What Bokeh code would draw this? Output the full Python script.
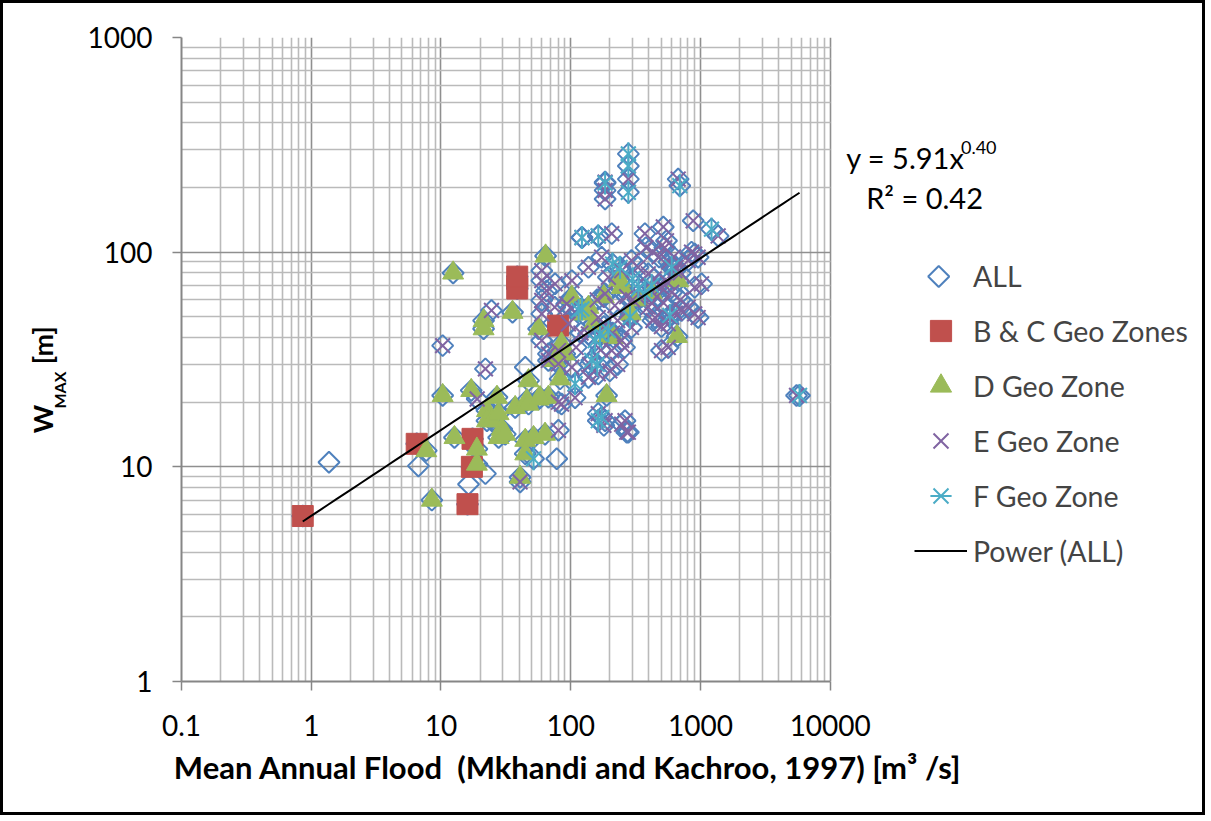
import numpy as np
from bokeh.plotting import figure
from bokeh.models import Label, Legend, LegendItem, FixedTicker
from bokeh.embed import file_html
from bokeh.resources import INLINE

# ---------------- data ----------------
bc_pts = [(0.86, 5.9), (6.5, 12.8), (16.0, 6.7), (17.3, 10.0), (17.5, 13.5),
          (38.7, 67.7), (38.7, 76.9), (80, 45.5)]

d_pts = [(7.7, 11.9), (8.5, 7.0), (10.3, 21.5), (12.4, 80), (12.7, 13.7), (17.1, 22.7),
         (18.9, 12.1), (18.9, 10.3), (21.3, 48), (21.3, 44), (22.6, 18.3), (22.6, 16.4),
         (24.7, 16.4), (27, 21.1), (27.8, 17.7), (29.4, 15.0), (27.8, 13.7), (31.3, 14.2),
         (35.6, 52.5), (37.3, 18.9), (45.9, 20.4), (56.5, 20.7), (67.3, 21.1), (47.3, 25.2),
         (82.8, 25.7), (44.6, 13.3), (51.7, 13.7), (63.4, 14.2), (44.6, 11.5), (40.7, 8.95),
         (56.5, 44), (64, 96), (47.3, 19.6), (58, 21), (75.7, 31.3), (85, 37.4), (90, 33.6),
         (102, 61.7), (125, 51.6), (137, 55.4), (150, 46.4), (195, 40.9), (213, 40.1),
         (240, 73.7), (247, 68.6), (290, 51.6), (673, 73.7), (660, 40.5), (189, 21.5),
         (235, 73.7), (330, 60), (420, 65), (180, 62)]

e_pts = [(10.3, 36.7), (19, 20.7), (22, 28.6), (24.5, 53.5), (40.7, 8.5),
         (59.8, 82), (59.8, 73.7), (65, 66), (75.3, 55.4), (59.8, 59.6), (59.8, 51.6),
         (59.8, 38.8), (67.3, 31.3), (67.3, 33.6), (80.4, 30.2), (80.4, 34.8), (80.4, 20),
         (80.4, 14.8), (85, 19.6), (93, 57.4), (75.7, 71.2), (102, 73.7), (102, 29.1),
         (96, 46.4), (108, 21), (137, 85), (137, 41.6), (137, 26.1), (163, 49.6), (163, 27.1),
         (163, 17.7), (173, 94.7), (184, 64), (184, 16.4), (195, 76.4), (207, 34.8),
         (219, 56.4), (247, 82), (247, 38.8), (247, 15.8), (262, 16.4), (278, 14.5),
         (294, 91.4), (294, 44.6), (396, 79.3), (396, 55.4), (446, 49.6), (501, 68.6),
         (501, 34.8), (564, 46.4), (564, 36), (634, 82), (714, 53.5), (803, 91.4),
         (803, 55.4), (903, 98), (903, 68.6), (903, 51.6), (959, 49.6), (959, 94.7),
         (853, 100), (1019, 71.2), (1368, 119), (122, 117), (163, 119), (207, 122),
         (373, 122), (517, 131), (879, 140), (547, 113), (184, 212), (184, 194), (184, 177),
         (278, 219), (673, 219), (380, 105), (430, 100), (480, 95), (530, 105), (570, 90),
         (620, 95), (650, 85), (700, 80), (440, 75), (480, 70), (560, 72), (600, 65),
         (460, 62), (520, 58), (580, 50), (640, 52), (700, 60), (500, 45), (430, 48),
         (140, 30), (170, 35), (200, 28), (230, 30), (260, 36), (180, 45), (210, 42),
         (270, 14.5), (180, 15.6), (300, 60), (350, 62), (420, 58), (160, 60), (120, 42),
         (110, 36), (100, 55), (230, 48), (270, 62), (330, 85), (5500, 21.5)]

f_pts = [(51.7, 10.9), (278, 287), (278, 252), (278, 190), (693, 204), (1216, 128),
         (115, 53.5), (122, 54.4), (168, 41.6), (332, 67.5), (145, 31.3), (108, 24.4),
         (163, 16.4), (173, 17), (240, 85), (373, 64), (286, 49.8), (195, 43.1), (154, 38.7),
         (581, 50.7), (5800, 21.5), (122, 117), (163, 119), (184, 210), (420, 70), (300, 75),
         (600, 85), (160, 30), (210, 88)]

# sites in ALL that carry no zone marker
unzoned_pts = [(1.37, 10.5), (6.7, 10.1), (16.3, 8.3), (22, 9.3), (78, 10.9), (44.6, 29.1)]

all_pts = bc_pts + d_pts + e_pts + f_pts + unzoned_pts

power_a, power_b = 5.91, 0.40          # trend line y = a * x^b
r_squared = 0.42

x_ticks = [0.1, 1, 10, 100, 1000, 10000]
x_tick_labels = ["0.1", "1", "10", "100", "1000", "10000"]
y_ticks = [1, 10, 100, 1000]
y_tick_labels = ["1", "10", "100", "1000"]

series_names = ["ALL", "B & C Geo Zones", "D Geo Zone", "E Geo Zone", "F Geo Zone", "Power (ALL)"]
x_title = "Mean Annual Flood \u00a0(Mkhandi and Kachroo, 1997) [m³ /s]"

# ---------------- styling ----------------
C_ALL, C_BC, C_D, C_E, C_F = "#4F81BD", "#C0504D", "#9BBB59", "#8064A2", "#4BACC6"
FONT = "Lato"
MS = 21
PX_DEC_X, PX_DEC_Y = 130.0, 214.67     # pixels per decade
FRAME_L, FRAME_B = 179, 681            # page pixels of the (0.1, 1) corner
FRAME_R_EXT = 1200                     # frame extended right so legend/equation are not clipped

def xs(pts): return [a for a, b in pts]
def ys(pts): return [b for a, b in pts]

x_end = 10 ** (np.log10(x_ticks[-1]) + (FRAME_R_EXT - 829) / PX_DEC_X)

# canvas 1205x815 + 3px css border = 1211x821
p = figure(width=1205, height=815, x_axis_type="log", y_axis_type="log",
           x_range=(x_ticks[0], x_end), y_range=(y_ticks[0], y_ticks[-1]),
           output_backend="svg", toolbar_location=None,
           min_border_left=176, min_border_right=8, min_border_top=34, min_border_bottom=137)
p.styles = {"border": "3px solid black"}
p.outline_line_color = None

x_minor = [m * 10.0 ** e for e in range(-1, 4) for m in range(2, 10)]
y_minor = [m * 10.0 ** e for e in range(0, 3) for m in range(2, 10)]
xt = FixedTicker(ticks=x_ticks, minor_ticks=x_minor)
yt = FixedTicker(ticks=y_ticks, minor_ticks=y_minor)
p.xaxis.ticker = xt
p.yaxis.ticker = yt
p.xgrid.ticker = xt
p.ygrid.ticker = yt
p.xaxis.major_label_overrides = dict(zip(x_ticks, x_tick_labels))
p.yaxis.major_label_overrides = dict(zip(y_ticks, y_tick_labels))
p.xaxis.bounds = (x_ticks[0], x_ticks[-1])
p.ygrid.cross_bounds = (x_ticks[0], x_ticks[-1])
p.xgrid.cross_bounds = (y_ticks[0], y_ticks[-1])

for g in (p.xgrid, p.ygrid):
    g.grid_line_color = "#8f8f8f"
    g.grid_line_width = 1.6
    g.minor_grid_line_color = "#bababa"
    g.minor_grid_line_width = 1.6

for ax in (p.xaxis, p.yaxis):
    ax.axis_line_color = "#868686"
    ax.axis_line_width = 2
    ax.major_tick_line_color = "#868686"
    ax.major_tick_line_width = 1.5
    ax.major_tick_out = 9
    ax.major_tick_in = 0
    ax.minor_tick_out = 0
    ax.minor_tick_in = 0
    ax.major_label_text_font = FONT
    ax.major_label_text_font_size = "28px"
    ax.major_label_text_color = "black"
p.xaxis.major_label_standoff = 24
p.yaxis.major_label_standoff = 20

p.yaxis.axis_label = "W\u2002\u2002\u2002[m]\u2002\u2002\u2002"
p.yaxis.axis_label_text_font = FONT
p.yaxis.axis_label_text_font_size = "27px"
p.yaxis.axis_label_text_font_style = "bold"
p.yaxis.axis_label_text_color = "black"
p.yaxis.axis_label_standoff = 26

# ---------------- glyphs ----------------
r_all = p.scatter(xs(all_pts), ys(all_pts), marker="square", angle=np.pi / 4, size=MS / 1.41,
                  fill_color=None, line_color=C_ALL, line_width=2)
r_bc = p.scatter(xs(bc_pts), ys(bc_pts), marker="square", size=MS, fill_color=C_BC,
                 line_color=C_BC, line_width=1)
r_d = p.scatter(xs(d_pts), ys(d_pts), marker="triangle", size=MS, fill_color=C_D,
                line_color=C_D, line_width=1)
r_e = p.scatter(xs(e_pts), ys(e_pts), marker="x", size=MS, line_color=C_E, line_width=2)
r_f1 = p.scatter(xs(f_pts), ys(f_pts), marker="x", size=MS, line_color=C_F, line_width=2)
r_f2 = p.scatter(xs(f_pts), ys(f_pts), marker="dash", angle=np.pi / 2, size=MS * 1.1,
                 line_color=C_F, line_width=2)

ax_all = np.array(xs(all_pts))
tx = np.logspace(np.log10(ax_all.min()), np.log10(ax_all.max()), 60)
r_line = p.line(tx, power_a * tx ** power_b, line_color="black", line_width=2)

# ---------------- texts / legend (positions given in page pixels) ----------------
def dx(px):  # page x pixel -> data x
    return 10 ** ((px - FRAME_L) / PX_DEC_X - 1)

def dy(py):  # page y pixel -> data y
    return 10 ** ((FRAME_B - py) / PX_DEC_Y)

# legend key for ALL (Bokeh legends do not rotate the square into a diamond)
r_all_key = p.scatter([dx(937.7)], [dy(276)], marker="square", angle=np.pi / 4, size=MS / 1.41,
                      fill_color=None, line_color=C_ALL, line_width=2)
r_blank = p.scatter([dx(937.7)], [dy(276)], marker="square", size=1, fill_alpha=0, line_alpha=0)

legend = Legend(items=[
    LegendItem(label=series_names[0], renderers=[r_blank]),
    LegendItem(label=series_names[1], renderers=[r_bc]),
    LegendItem(label=series_names[2], renderers=[r_d]),
    LegendItem(label=series_names[3], renderers=[r_e]),
    LegendItem(label=series_names[4], renderers=[r_f1, r_f2]),
    LegendItem(label=series_names[5], renderers=[r_line]),
], location=(733, 104), glyph_width=53, glyph_height=53, label_height=53, spacing=2,
    padding=0, margin=0, border_line_color=None, background_fill_alpha=0,
    label_text_font=FONT, label_text_font_size="28.5px", label_standoff=6)
p.add_layout(legend, "center")

def lab(text, px, py, size, bold=False, angle=0, align="left", baseline="alphabetic", place="center"):
    p.add_layout(Label(x=dx(px), y=dy(py), text=text, text_font=FONT, text_font_size=size,
                       text_font_style="bold" if bold else "normal", angle=angle,
                       text_align=align, text_baseline=baseline, text_color="black"), place)

lab("y = %.2fx" % power_a, 845, 157, "29px")
lab("%.2f" % power_b, 960, 147, "18px")
lab("R² = %.2f" % r_squared, 865, 197, "29px")

lab(x_title, 566, 767, "31px", bold=True, align="center", place="below")
lab("MAX", 57, 408, "16px", bold=True, angle=np.pi / 2, place="left")

open("out.html", "w").write(file_html(p, INLINE))
